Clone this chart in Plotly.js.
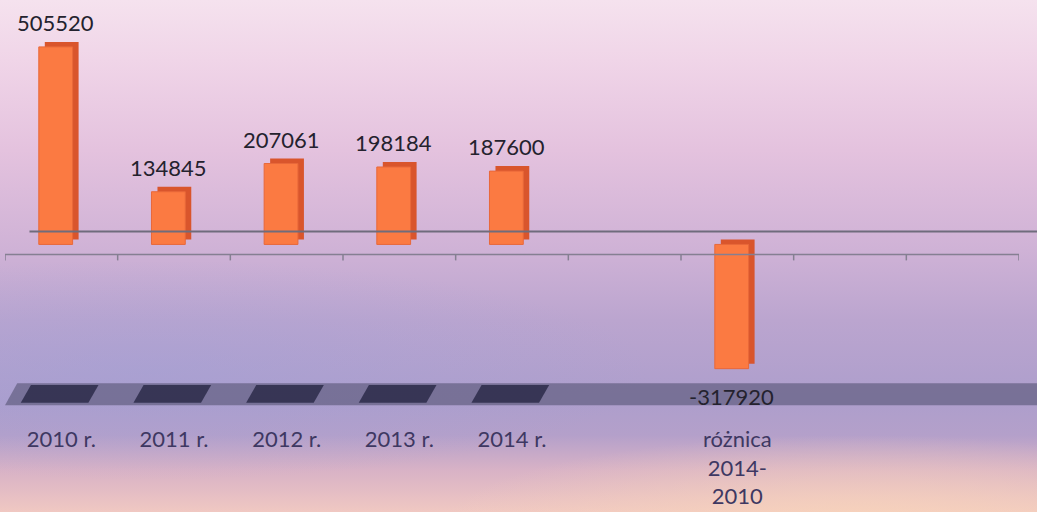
<!DOCTYPE html>
<html>
<head>
<meta charset="utf-8">
<script src="https://cdn.plot.ly/plotly-3.0.1.min.js"></script>
<style>
  html, body { margin: 0; padding: 0; }
  body {
    width: 1037px; height: 512px; overflow: hidden;
    background:
      radial-gradient(ellipse 420px 90px at 860px 525px, rgba(248,212,186,0.85), rgba(248,212,186,0) 100%),
      radial-gradient(ellipse 500px 110px at 150px 370px, rgba(160,160,215,0.45), rgba(160,160,215,0) 100%),
      linear-gradient(to bottom, #f5e2ee 0px, #f0d5e8 60px, #e4c2de 150px, #cfb2d6 250px, #bba5cf 320px, #ad9ecc 400px, #b4a0ca 435px, #d8b2c6 470px, #f0c8c2 512px);
  }
  #chart { width: 1037px; height: 512px; }
</style>
</head>
<body>
<div id="chart"></div>
<script>
// ---- data ----
const categories = ["2010 r.", "2011 r.", "2012 r.", "2013 r.", "2014 r.", "", "różnica<br>2014-<br>2010", "", ""];
const values = [505520, 134845, 207061, 198184, 187600, null, -317920, null, null];
const labels = ["505520", "134845", "207061", "198184", "187600", "", "-317920", "", ""];

const idx = categories.map((_, i) => i);

// ---- styling ----
const fontFam = "Lato, 'Open Sans', 'Liberation Sans', sans-serif";
const frontColor = "#fb7a42";
const sideColor = "#d9552c";
const xRange = [-0.5, categories.length - 0.5];
const yRange = [-459540, 612720];

const traces = [
  { // depth / side faces (drawn first, shifted up-right)
    type: "bar", x: idx, y: values, xaxis: "x", yaxis: "y",
    width: 0.3, offset: -0.2,
    marker: { color: sideColor, line: { width: 0 } },
    hoverinfo: "skip", showlegend: false
  },
  { // front faces
    type: "bar", x: idx, y: values, xaxis: "x2", yaxis: "y2",
    width: 0.3, offset: -0.2,
    marker: { color: frontColor, line: { color: "#e8683a", width: 1 } },
    showlegend: false
  }
];

// data labels
const annotations = [];
values.forEach((v, i) => {
  if (v === null) return;
  annotations.push({
    xref: "x2", yref: "y2", x: i - 0.05, y: v,
    text: labels[i], showarrow: false,
    yanchor: v >= 0 ? "bottom" : "top",
    yshift: v >= 0 ? 9 : -12,
    font: { family: fontFam, size: 22, color: "#24222e" }
  });
});

// decorative floor band and bar shadows
const shapes = [];
shapes.push({
  type: "path", xref: "paper", yref: "paper", layer: "below",
  path: "M -0.0 0.044 L 0.012 0.096 L 1.02 0.096 L 1.012 0.044 Z",
  fillcolor: "rgba(100,96,130,0.72)", line: { width: 0 }
});
values.forEach((v, i) => {
  if (v !== null && v > 0) {
    shapes.push({
      type: "path", xref: "x2", yref: "paper", layer: "below",
      path: `M ${i - 0.36} 0.05 L ${i - 0.27} 0.092 L ${i + 0.33} 0.092 L ${i + 0.24} 0.05 Z`,
      fillcolor: "rgba(30,30,60,0.72)", line: { width: 0 }
    });
  }
});
// back-wall zero line
shapes.push({
  type: "line", xref: "paper", yref: "paper",
  x0: 0.024, x1: 1.02, y0: (425 - 232) / 425, y1: (425 - 232) / 425,
  line: { color: "#6f6c7c", width: 2 }
});
// front category axis line with tick marks
const axY = (425 - 255) / 425;
shapes.push({
  type: "line", xref: "x2", yref: "paper",
  x0: xRange[0], x1: xRange[1], y0: axY, y1: axY,
  line: { color: "#857f92", width: 1.5 }
});
for (let k = 0; k <= categories.length; k++) {
  shapes.push({
    type: "line", xref: "x2", yref: "paper",
    x0: k - 0.5, x1: k - 0.5, y0: axY, y1: axY - 6 / 425,
    line: { color: "#857f92", width: 1.5 }
  });
}

const layout = {
  width: 1037, height: 512,
  margin: { l: 5, r: 12, t: 0, b: 88 },
  paper_bgcolor: "rgba(0,0,0,0)",
  plot_bgcolor: "rgba(0,0,0,0)",
  barmode: "overlay",
  showlegend: false,
  xaxis: { domain: [6 / 1020, 1], range: xRange, visible: false, anchor: "y" },
  yaxis: { domain: [5 / 424, 1], range: yRange, visible: false, anchor: "x" },
  xaxis2: {
    domain: [0, 1014 / 1020], range: xRange, anchor: "y2",
    tickmode: "array", tickvals: idx, ticktext: categories,
    showgrid: false, zeroline: false, showline: false, ticks: "",
    tickfont: { family: fontFam, size: 22, color: "#3e3862" }
  },
  yaxis2: {
    domain: [0, 419 / 424], range: yRange, anchor: "x2",
    visible: false, showgrid: false, zeroline: false
  },
  shapes: shapes,
  annotations: annotations,
  font: { family: fontFam }
};

Plotly.newPlot("chart", traces, layout, { displayModeBar: false, staticPlot: true });
</script>
</body>
</html>
